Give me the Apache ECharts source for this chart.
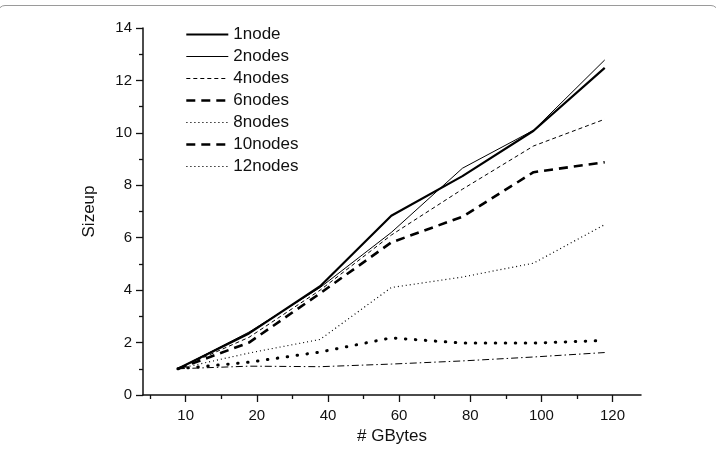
<!DOCTYPE html>
<html>
<head>
<meta charset="utf-8">
<script src="https://cdn.jsdelivr.net/npm/echarts@6/dist/echarts.min.js"></script>
<style>html,body{margin:0;padding:0;background:#fff}#c{width:716px;height:452px}</style>
</head>
<body>
<div id="c"></div>
<script>
// Categories (GBytes) — equally spaced on the axis
var sizes = ['10', '20', '40', '60', '80', '100', '120'];
var seriesNames = ['1node', '2nodes', '4nodes', '6nodes', '8nodes', '10nodes', '12nodes'];
var node1   = [1, 2.35, 4.15, 6.84, 8.35, 10.08, 12.48];
var node2   = [1, 2.4, 4.1, 6.2, 8.65, 10.1, 12.78];
var node4   = [1, 2.2, 4.0, 6.1, 7.85, 9.5, 10.52];
var node6   = [1, 2.0, 3.88, 5.82, 6.8, 8.5, 8.88];
var node8   = [1, 1.6, 2.12, 4.1, 4.5, 5.03, 6.5];
var node10  = [1, 1.25, 1.64, 2.18, 1.98, 1.98, 2.08];
var node12  = [1, 1.1, 1.08, 1.18, 1.3, 1.45, 1.62];
var yTicks = [0, 2, 4, 6, 8, 10, 12, 14];

var allData = [node1, node2, node4, node6, node8, node10, node12];
var pointShift = -0.11; // points sit slightly left of the category ticks
function toPairs(arr) { return arr.map(function (v, i) { return [i + 1 + pointShift, v]; }); }

var styles = [
  {width: 2.2, type: 'solid', cap: 'butt'},
  {width: 1, type: 'solid', cap: 'butt'},
  {width: 1, type: [4, 3], cap: 'butt'},
  {width: 2.6, type: [9, 6], cap: 'butt'},
  {width: 1.2, type: [1, 3], cap: 'butt'},
  {width: 3, type: [0.5, 9.5], cap: 'round'},
  {width: 1, type: [7, 3, 1.5, 3], cap: 'butt'}
];
var legendStyles = [
  {width: 2.2, type: 'solid'},
  {width: 1.2, type: 'solid'},
  {width: 1, type: [4, 3]},
  {width: 2.6, type: [9, 6]},
  {width: 1.1, type: [1.2, 2.8]},
  {width: 2.6, type: [9, 6]},
  {width: 1.1, type: [1.2, 2.8]}
];

var majorIdx = sizes.map(function (s, i) { return i + 1; });
var minorIdx = sizes.map(function (s, i) { return i + 0.5; });
var FONT = '"Liberation Sans", Arial, sans-serif';

var chart = echarts.init(document.getElementById('c'), null, {renderer: 'canvas'});
chart.setOption({
  animation: false,
  backgroundColor: '#fff',
  graphic: [{
    type: 'rect', shape: {x: -2, y: 5.5, width: 720, height: 470, r: 7},
    style: {fill: 'none', stroke: '#9a9a9a', lineWidth: 1}, silent: true, z: -10
  }],
  grid: {left: 143, right: 75, top: 28, bottom: 57, containLabel: false},
  legend: {
    orient: 'vertical', left: 180, top: 21,
    itemWidth: 42, itemHeight: 14, itemGap: 5,
    itemStyle: {opacity: 0},
    textStyle: {fontFamily: FONT, fontSize: 17, color: '#111'},
    data: seriesNames.map(function (n, i) {
      return {
        name: n,
        itemStyle: {opacity: 0},
        lineStyle: {width: legendStyles[i].width, type: legendStyles[i].type, color: '#000', cap: 'butt', opacity: 1}
      };
    })
  },
  xAxis: [{
    type: 'value', min: 0.4, max: 7.4,
    name: '# GBytes', nameLocation: 'middle', nameGap: 33,
    nameTextStyle: {fontFamily: FONT, fontSize: 17, color: '#111'},
    splitLine: {show: false},
    axisLine: {show: true, lineStyle: {color: '#111', width: 1.5}},
    axisTick: {show: true, customValues: majorIdx, length: 7, lineStyle: {color: '#111', width: 1.3}},
    axisLabel: {customValues: majorIdx, margin: 13, fontFamily: FONT, fontSize: 15, color: '#111',
      formatter: function (v) { return sizes[Math.round(v) - 1] || ''; }}
  }, {
    type: 'value', min: 0.4, max: 7.4, position: 'bottom',
    splitLine: {show: false},
    axisLine: {show: false},
    axisTick: {show: true, customValues: minorIdx, length: 4, lineStyle: {color: '#111', width: 1.3}},
    axisLabel: {show: false}
  }],
  yAxis: {
    type: 'value', min: 0, max: 14, interval: 2,
    name: 'Sizeup', nameLocation: 'middle', nameGap: 45,
    nameTextStyle: {fontFamily: FONT, fontSize: 17, color: '#111'},
    splitLine: {show: false},
    axisLine: {show: true, lineStyle: {color: '#111', width: 1.5}},
    axisTick: {show: true, length: 7, lineStyle: {color: '#111', width: 1.3}},
    minorTick: {show: true, splitNumber: 2, length: 4, lineStyle: {color: '#111', width: 1.3}},
    axisLabel: {margin: 11, fontFamily: FONT, fontSize: 15, color: '#111'}
  },
  series: seriesNames.map(function (n, i) {
    return {
      name: n, type: 'line', xAxisIndex: 0, symbol: 'none',
      data: toPairs(allData[i]),
      lineStyle: {color: '#000', width: styles[i].width, type: styles[i].type, cap: styles[i].cap},
      itemStyle: {color: '#000'},
      z: 10 - i
    };
  })
});
</script>
</body>
</html>
